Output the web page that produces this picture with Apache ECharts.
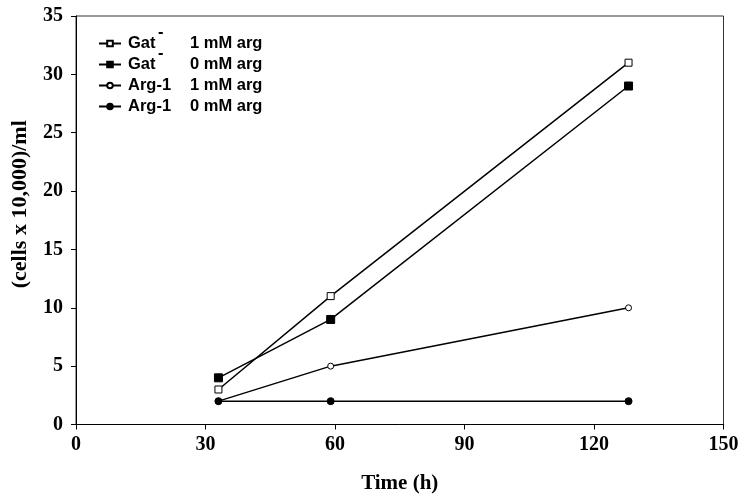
<!DOCTYPE html>
<html>
<head>
<meta charset="utf-8">
<script src="https://cdn.jsdelivr.net/npm/echarts@6/dist/echarts.min.js"></script>
<style>html,body{margin:0;padding:0;background:#fff}#c{width:745px;height:501px}</style>
</head>
<body>
<div id="c"></div>
<script>
const timesH = [33, 59, 128];
const gat1mM = [3, 11, 31];
const gat0mM = [4, 9, 29];
const arg1mM = [2, 5, 10];
const arg0mM = [2, 2, 2];
const seriesNames = ['Gat 1', 'Gat 0', 'Arg 1', 'Arg 0'];
const xTicks = [0, 30, 60, 90, 120, 150];
const yTicks = [0, 5, 10, 15, 20, 25, 30, 35];

const legendText = {
  'Gat 1': '{p| }{g|Gat}{s|-}{b|1 mM arg}',
  'Gat 0': '{p| }{g|Gat}{s|-}{b|0 mM arg}',
  'Arg 1': '{p| }{a|Arg-1}{z| }{b|1 mM arg}',
  'Arg 0': '{p| }{a|Arg-1}{z| }{b|0 mM arg}'
};

function pairs(ys) { return timesH.map((x, i) => [x, ys[i]]); }

const LF = { fontFamily: 'Liberation Sans', fontWeight: 'bold', fontSize: 16.5, color: '#000', lineHeight: 21 };
const chart = echarts.init(document.getElementById('c'));
const base = { type: 'line', lineStyle: { color: '#000', width: 1.5 }, emphasis: { disabled: true }, z: 3 };
chart.setOption({
  animation: false,
  backgroundColor: '#fff',
  grid: { left: 76, top: 16, right: 21.5, bottom: 76.5, show: true, borderColor: '#333', borderWidth: 1, backgroundColor: 'transparent' },
  legend: {
    orient: 'vertical', left: 93, top: 19, itemGap: -9, itemWidth: 22, itemHeight: 7,
    data: seriesNames,
    formatter: n => legendText[n],
    textStyle: Object.assign({}, LF, {
      rich: {
        p: Object.assign({}, LF, { width: 2 }),
        g: Object.assign({}, LF, { width: 30 }),
        s: Object.assign({}, LF, { width: 32, verticalAlign: 'bottom', padding: [0, 0, 13, 0] }),
        z: Object.assign({}, LF, { width: 0, verticalAlign: 'bottom', padding: [0, 0, 13, 0] }),
        a: Object.assign({}, LF, { width: 62 }),
        b: Object.assign({}, LF)
      }
    })
  },
  xAxis: {
    type: 'value', min: 0, max: 150, interval: 30,
    name: 'Time (h)', nameLocation: 'middle', nameGap: 49,
    nameTextStyle: { fontFamily: 'Liberation Serif', fontWeight: 'bold', fontSize: 21, color: '#000' },
    axisLine: { show: true, lineStyle: { color: '#000', width: 1 } },
    axisTick: { show: true, length: 5, inside: false, lineStyle: { color: '#000' } },
    splitLine: { show: false },
    axisLabel: { fontFamily: 'Liberation Serif', fontWeight: 'bold', fontSize: 20, color: '#000', margin: 10,
      formatter: v => xTicks.includes(v) ? String(v) : '' }
  },
  yAxis: {
    type: 'value', min: 0, max: 35, interval: 5,
    name: '(cells x 10,000)/ml', nameLocation: 'middle', nameGap: 45,
    nameTextStyle: { fontFamily: 'Liberation Serif', fontWeight: 'bold', fontSize: 22, color: '#000', padding: [0, 0, 0, 32] },
    axisLine: { show: true, lineStyle: { color: '#000', width: 1 } },
    axisTick: { show: true, length: 5, inside: false, lineStyle: { color: '#000' } },
    splitLine: { show: false },
    axisLabel: { fontFamily: 'Liberation Serif', fontWeight: 'bold', fontSize: 20, color: '#000', margin: 13,
      formatter: v => yTicks.includes(v) ? String(v) : '' }
  },
  series: [
    Object.assign({}, base, { name: seriesNames[0], data: pairs(gat1mM), symbol: 'rect', symbolSize: 7,
      itemStyle: { color: '#fff', borderColor: '#000', borderWidth: 1 } }),
    Object.assign({}, base, { name: seriesNames[1], data: pairs(gat0mM), symbol: 'rect', symbolSize: 8,
      itemStyle: { color: '#000', borderColor: '#000', borderWidth: 1 } }),
    Object.assign({}, base, { name: seriesNames[2], data: pairs(arg1mM), symbol: 'circle', symbolSize: 6,
      itemStyle: { color: '#fff', borderColor: '#000', borderWidth: 1 } }),
    Object.assign({}, base, { name: seriesNames[3], data: pairs(arg0mM), symbol: 'circle', symbolSize: 7,
      itemStyle: { color: '#000', borderColor: '#000', borderWidth: 1 } })
  ]
});
</script>
</body>
</html>
